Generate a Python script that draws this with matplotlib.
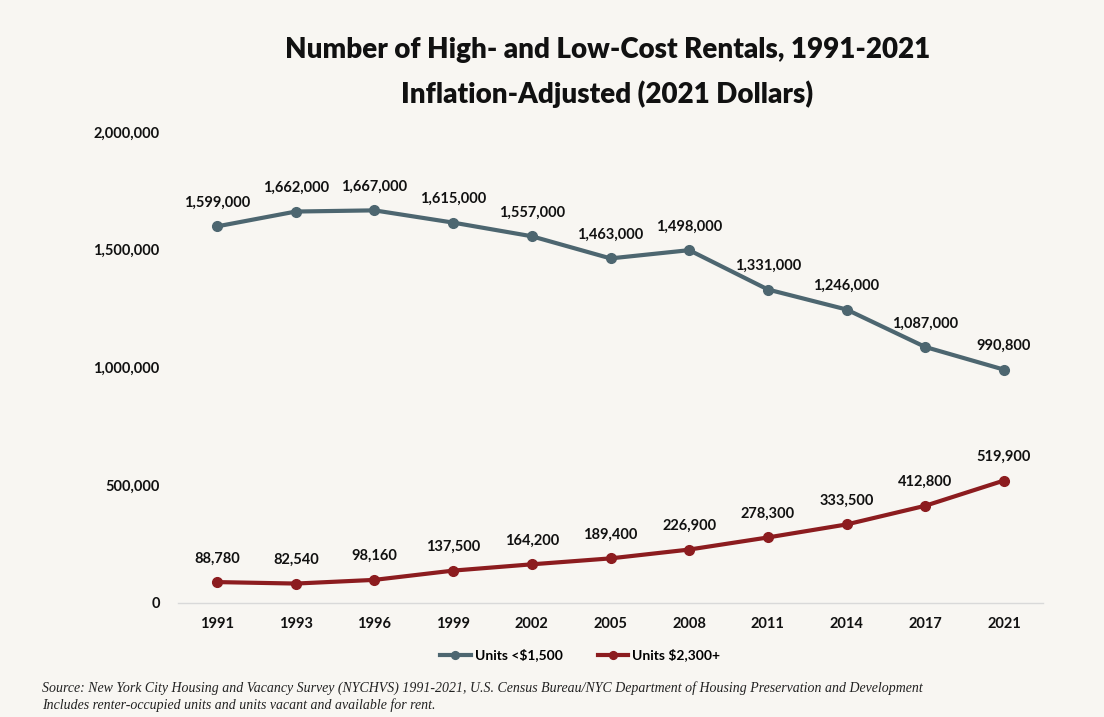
import numpy as np
import matplotlib
matplotlib.use("Agg")
import matplotlib.pyplot as plt
from matplotlib.ticker import FuncFormatter

years = ['1991', '1993', '1996', '1999', '2002', '2005', '2008', '2011', '2014', '2017', '2021']
low_cost = [1599000, 1662000, 1667000, 1615000, 1557000, 1463000, 1498000, 1331000, 1246000, 1087000, 990800]
high_cost = [88780, 82540, 98160, 137500, 164200, 189400, 226900, 278300, 333500, 412800, 519900]

bg = '#f8f6f2'
teal = '#4d6670'
red = '#8c1c1f'

plt.rcParams['font.family'] = ['Lato', 'DejaVu Sans']

fig = plt.figure(figsize=(11.04, 7.17), dpi=100, facecolor=bg)
ax = fig.add_axes([0.161, 0.159, 0.784, 0.657], facecolor=bg)

x = np.arange(len(years))
ax.plot(x, low_cost, color=teal, lw=3, marker='o', ms=7, label='Units <$1,500')
ax.plot(x, high_cost, color=red, lw=3, marker='o', ms=7, label='Units $2,300+')

for xi, v in zip(x, low_cost):
    ax.annotate(f'{v:,}', (xi, v), xytext=(0, 12), textcoords='offset points',
                ha='center', va='bottom', fontsize=10.5, fontweight='bold', color='#111111')
for xi, v in zip(x, high_cost):
    ax.annotate(f'{v:,}', (xi, v), xytext=(0, 12), textcoords='offset points',
                ha='center', va='bottom', fontsize=10.5, fontweight='bold', color='#111111')

ax.set_xlim(-0.5, len(years) - 0.5)
ax.set_ylim(0, 2000000)
ax.set_xticks(x)
ax.set_xticklabels(years)
ax.set_yticks([0, 500000, 1000000, 1500000, 2000000])
ax.yaxis.set_major_formatter(FuncFormatter(lambda v, p: f'{int(v):,}'))
ax.tick_params(length=0, labelsize=10.5, colors='#111111')
ax.tick_params(axis='y', pad=13)
ax.tick_params(axis='x', pad=10)
for lab in ax.get_xticklabels() + ax.get_yticklabels():
    lab.set_fontweight('bold')

for s in ['top', 'right', 'left']:
    ax.spines[s].set_visible(False)
ax.spines['bottom'].set_color('#d9d9d9')
ax.spines['bottom'].set_linewidth(1)

leg = ax.legend(loc='upper center', bbox_to_anchor=(0.465, -0.07), ncol=2, frameon=False,
                fontsize=10, handlelength=2.2, handletextpad=0.3, columnspacing=2.5,
                markerscale=0.8)
for t in leg.get_texts():
    t.set_fontweight('bold')

fig.text(0.55, 0.93, 'Number of High- and Low-Cost Rentals, 1991-2021',
         ha='center', va='center', fontsize=20, fontweight='heavy', color='#111111')
fig.text(0.55, 0.868, 'Inflation-Adjusted (2021 Dollars)',
         ha='center', va='center', fontsize=20, fontweight='heavy', color='#111111')

fig.text(0.038, 0.04, 'Source: New York City Housing and Vacancy Survey (NYCHVS) 1991-2021, U.S. Census Bureau/NYC Department of Housing Preservation and Development',
         fontsize=10, style='italic', family='Liberation Serif', color='#222222', va='center')
fig.text(0.038, 0.016, 'Includes renter-occupied units and units vacant and available for rent.',
         fontsize=10, style='italic', family='Liberation Serif', color='#222222', va='center')

fig.savefig('out.png', dpi=100, facecolor=bg)
